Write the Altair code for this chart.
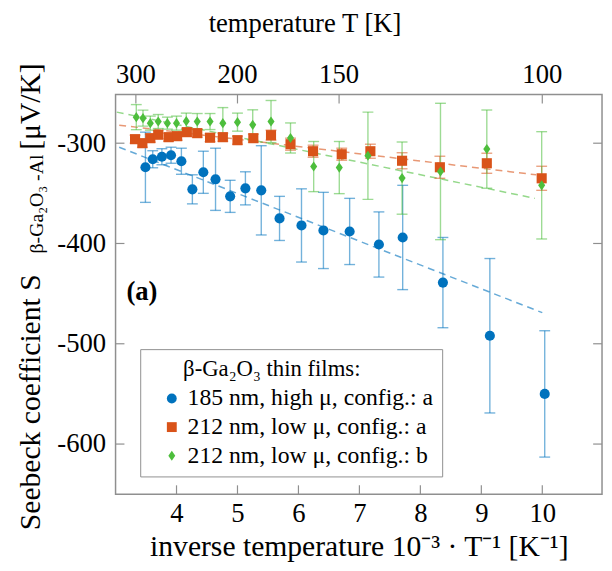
import altair as alt
import pandas as pd

FONT = "Liberation Serif"

series = ["185 nm, high μ, config.: a", "212 nm, low μ, config.: a", "212 nm, low μ, config.: b"]
colors = ["#0072BD", "#D95319", "#4DBE3C"]
shapes = ["circle", "square", "M0,-1L0.7,0L0,1L-0.7,0Z"]

# 185 nm, high mu, config a
blue_x = [3.49, 3.61, 3.76, 3.91, 4.08, 4.26, 4.44, 4.64, 4.88, 5.13, 5.39, 5.69, 6.05, 6.41, 6.84, 7.32, 7.71, 8.37, 9.14, 10.04]
blue_y = [-324, -316, -313.5, -312, -318, -346, -329, -336, -353, -345, -347, -375, -382, -387, -388, -401, -394, -439, -492, -550]
blue_e = [35, 8.5, 8, 8, 13, 14.5, 21, 31, 16, 16.5, 44.5, 22, 36.5, 38, 33, 32.5, 52, 45, 77, 63]

# 212 nm, low mu, config a
orange_x = [3.32, 3.44, 3.57, 3.70, 3.87, 4.01, 4.17, 4.34, 4.55, 4.76, 5.00, 5.26, 5.55, 5.87, 6.24, 6.71, 7.18, 7.70, 8.32, 9.09, 9.99]
orange_y = [-296, -300, -295, -291.5, -294, -293, -289, -290, -294.5, -294, -297, -295, -292, -301, -308, -311, -308, -317.5, -324, -320, -335]
orange_e = [4, 4, 4, 4, 4, 4, 4, 4, 4, 4, 4, 4, 5, 6, 6, 6, 7, 8, 11, 10, 12]

# 212 nm, low mu, config b
green_x = [3.34, 3.45, 3.57, 3.70, 3.85, 4.00, 4.16, 4.34, 4.55, 4.76, 5.00, 5.25, 5.55, 5.87, 6.25, 6.67, 7.14, 7.70, 8.33, 9.09, 9.99]
green_y = [-274, -275, -280, -278.4, -280, -280, -278, -278.4, -278.4, -280, -279, -281.7, -278.4, -294.8, -323.3, -324.3, -312.5, -334.8, -328.2, -305.9, -342]
green_e = [12.5, 8, 7, 7, 6, 7, 8, 8, 8, 15.5, 9, 15, 21, 15, 25, 26, 43.5, 36, 68, 39, 53.5]

# linear fits (end points)
fit_x0 = [3.06, 3.06, 3.02]
fit_y0 = [-304, -282, -269]
fit_x1 = [10.0, 9.9, 9.88]
fit_y1 = [-469, -331.5, -355]

x_ticks = [4, 5, 6, 7, 8, 9, 10]
y_ticks = [-300, -400, -500, -600]
top_temps = [300, 200, 150, 100]

rows = []
for s, xs_, ys_, es_ in zip(series, [blue_x, orange_x, green_x], [blue_y, orange_y, green_y], [blue_e, orange_e, green_e]):
    for x, y, e in zip(xs_, ys_, es_):
        rows.append({"x": x, "y": y, "err": e, "s": s})
pts = pd.DataFrame(rows)

fit_rows = []
for s, a, b, c, d in zip(series, fit_x0, fit_y0, fit_x1, fit_y1):
    fit_rows.append({"x": a, "y": b, "s": s})
    fit_rows.append({"x": c, "y": d, "s": s})
fits = pd.DataFrame(fit_rows)

W, H = 493, 405
xs = alt.Scale(domain=[3.0, 10.98], nice=False, zero=False)
ys = alt.Scale(domain=[-650, -251.5], nice=False, zero=False)
cs = alt.Scale(domain=series, range=colors)
ss = alt.Scale(domain=series, range=shapes)

xaxis = alt.Axis(values=x_ticks, ticks=False, domain=False, grid=False, labelFont=FONT, labelFontSize=27,
                 labelPadding=7, labelColor="black",
                 title="inverse temperature 10⁻³ · T⁻¹ [K⁻¹]", titleFont=FONT, titleFontSize=30,
                 titleFontWeight="normal", titleColor="black", titleX=W / 2, titleY=62,
                 titleAlign="center", titleBaseline="alphabetic")
yaxis = alt.Axis(values=y_ticks, ticks=False, domain=False, grid=False, labelFont=FONT, labelFontSize=27,
                 labelPadding=10, labelColor="black", labelExpr="'-' + abs(datum.value)",
                 title="Seebeck coefficient S", titleFont=FONT, titleFontSize=30, titleFontWeight="normal",
                 titleColor="black", titleAngle=270, titleX=-77, titleY=441, titleAlign="left",
                 titleBaseline="alphabetic")

legend = alt.Legend(title="\u2800\u2800β-Ga₂O₃ thin films:", orient="none",
                    legendX=25, legendY=258, strokeColor="#8f8f8f", fillColor="white", padding=9,
                    symbolOffset=11, labelFont=FONT, labelFontSize=24, labelColor="black", titleFont=FONT,
                    titleFontSize=23, titleFontWeight="normal", titleColor="black", titlePadding=6,
                    rowPadding=5, symbolSize=100, labelOffset=4, symbolStrokeWidth=0,
                    titleLimit=500, labelLimit=500)


def X(field):
    return alt.X(field, scale=xs, axis=xaxis)


def Y(field):
    return alt.Y(field, scale=ys, axis=yaxis)


layers = []

# dashed fit lines, error bars (one layer per series, fixed colour)
for s, col in zip(series, colors):
    sel = alt.datum.s == s
    layers.append(alt.Chart(fits).transform_filter(sel).mark_line(
        color=col, strokeDash=[7, 5], strokeWidth=1.5, opacity=0.6).encode(x=X("x:Q"), y=Y("y:Q")))
for s, col in zip(series, colors):
    sel = alt.datum.s == s
    errbase = alt.Chart(pts).transform_filter(sel).transform_calculate(
        lo="datum.y - datum.err", hi="datum.y + datum.err")
    layers.append(errbase.mark_rule(color=col, strokeWidth=1.4, opacity=0.55).encode(
        x=X("x:Q"), y=Y("lo:Q"), y2="hi:Q"))
    layers.append(errbase.transform_fold(["lo", "hi"], as_=["k", "v"]).mark_tick(
        color=col, orient="horizontal", size=11, thickness=1.4, opacity=0.55).encode(
        x=X("x:Q"), y=Y("v:Q")))

points = alt.Chart(pts).mark_point(filled=True, opacity=1, size=105, strokeWidth=0).encode(
    x=X("x:Q"), y=Y("y:Q"),
    color=alt.Color("s:N", scale=cs, legend=legend),
    shape=alt.Shape("s:N", scale=ss, legend=legend))
layers.append(points)

tick_style = dict(color="#8f8f8f", strokeWidth=1.2)
xt = alt.Chart(pd.DataFrame({"v": x_ticks}))
yt = alt.Chart(pd.DataFrame({"v": y_ticks}))
tt = alt.Chart(pd.DataFrame({"T": top_temps})).transform_calculate(v="1000 / datum.T")

layers += [
    xt.mark_rule(**tick_style).encode(x=X("v:Q"), y=alt.value(H), y2=alt.value(H - 9)),
    tt.mark_rule(**tick_style).encode(x=X("v:Q"), y=alt.value(0), y2=alt.value(9)),
    yt.mark_rule(**tick_style).encode(y=Y("v:Q"), x=alt.value(0), x2=alt.value(9)),
    yt.mark_rule(**tick_style).encode(y=Y("v:Q"), x=alt.value(W), x2=alt.value(W - 9)),
    tt.mark_text(font=FONT, fontSize=27, color="black", align="center", baseline="alphabetic").encode(
        x=X("v:Q"), y=alt.value(-12), text=alt.Text("T:Q", format="d")),
]


def label(txt, x, y, size, **kw):
    return alt.Chart(pd.DataFrame({"t": [txt]})).mark_text(
        font=FONT, fontSize=size, color="black", baseline="alphabetic", **kw).encode(
        x=alt.value(x), y=alt.value(y), text="t:N")


layers += [
    label("temperature T [K]", 192, -63, 27, align="center"),
    label("(a)", 11, 208, 27, align="left", fontWeight="bold"),
    label("β-Ga₂O₃ -Al", -74, 161, 20, align="left", angle=270),
    label("[μV/K]", -77, 56, 30, align="left", angle=270),
]

chart = alt.layer(*layers).properties(
    width=W, height=H,
    padding={"left": 109, "top": 84, "right": 2, "bottom": 66},
    autosize=alt.AutoSizeParams(type="none"),
).configure(font=FONT).configure_legend(
    labelFont=FONT, titleFont=FONT
).configure_view(stroke="#8f8f8f", strokeWidth=1.5)

chart.save("out.html", embed_options={"renderer": "svg", "actions": False})
